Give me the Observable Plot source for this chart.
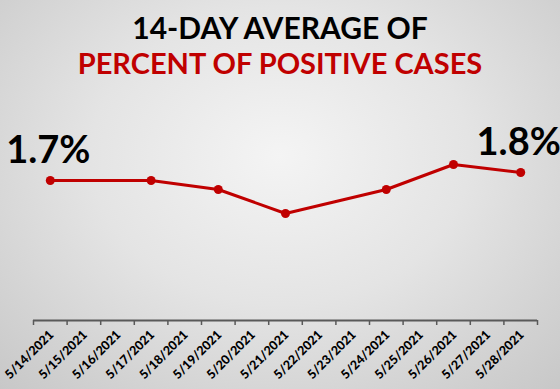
<!DOCTYPE html>
<html><head><meta charset="utf-8">
<script src="https://cdn.jsdelivr.net/npm/d3@7"></script>
<script src="https://cdn.jsdelivr.net/npm/@observablehq/plot@0.6"></script>
<style>
html,body{margin:0;padding:0;}
body{width:560px;height:389px;overflow:hidden;
  background:radial-gradient(ellipse 75% 85% at 50% 40%, #f4f4f4 0%, #e4e4e4 45%, #c6c6c6 100%);
  font-family:Lato, sans-serif;}
#title{height:90px;text-align:center;font-weight:bold;padding-top:10px;box-sizing:border-box;}
.l1{font-size:30px;line-height:35px;color:#000;}
.l2{font-size:29px;line-height:35px;color:#c00000;}
</style></head>
<body>
<div id="title"><div class="l1">14-DAY AVERAGE OF</div><div class="l2">PERCENT OF POSITIVE CASES</div></div>
<div id="chart"></div>
<script>
const dates = ["5/14/2021","5/15/2021","5/16/2021","5/17/2021","5/18/2021","5/19/2021","5/20/2021","5/21/2021","5/22/2021","5/23/2021","5/24/2021","5/25/2021","5/26/2021","5/27/2021","5/28/2021"];
const pointDates = ["5/14/2021","5/17/2021","5/19/2021","5/21/2021","5/24/2021","5/26/2021","5/28/2021"];
const pointValues = [1.70, 1.70, 1.655, 1.535, 1.655, 1.78, 1.74];
const labelDates = ["5/14/2021","5/28/2021"];
const labelValues = [1.70, 1.74];
const labelTexts = ["1.7%","1.8%"];

const points = pointDates.map((d,i)=>({date:d, value:pointValues[i]}));
const labels = labelDates.map((d,i)=>({date:d, value:labelValues[i], text:labelTexts[i]}));
const W = 560, H = 299, ml = 33, mr = 23;
const step = (W - ml - mr) / dates.length;
const axisColor = "#595959";
const chart = Plot.plot({
  width: W, height: H, marginLeft: ml, marginRight: mr, marginTop: 30, marginBottom: 69,
  style: {background: "transparent", fontFamily: "Lato, sans-serif", color: "#000", overflow: "visible"},
  x: {type: "band", domain: dates, padding: 0, round: false, axis: null},
  y: {domain: [1, 2], axis: null},
  marks: [
    Plot.ruleY([1], {stroke: axisColor, strokeWidth: 2}),
    Plot.ruleX(dates, {x: d => d, y1: 1, y2: 0.975, dx: -step/2, stroke: axisColor, strokeWidth: 1.5}),
    Plot.ruleX(dates.slice(-1), {x: d => d, y1: 1, y2: 0.975, dx: step/2, stroke: axisColor, strokeWidth: 1.5}),
    Plot.text(dates, {x: d => d, frameAnchor: "bottom", text: d => d, rotate: -45, textAnchor: "end", dx: 4, dy: 15, fontSize: 12.5, fontWeight: 900, fill: "#000"}),
    Plot.line(points, {x: "date", y: "value", stroke: "#c00000", strokeWidth: 3}),
    Plot.dot(points, {x: "date", y: "value", fill: "#c00000", r: 4.5}),
    Plot.text(labels, {x: "date", y: "value", text: "text", dx: -2, dy: -18, lineAnchor: "bottom", fontSize: 38, fontWeight: "bold", fill: "#000"})
  ]
});
document.getElementById("chart").appendChild(chart);
</script>
</body></html>
